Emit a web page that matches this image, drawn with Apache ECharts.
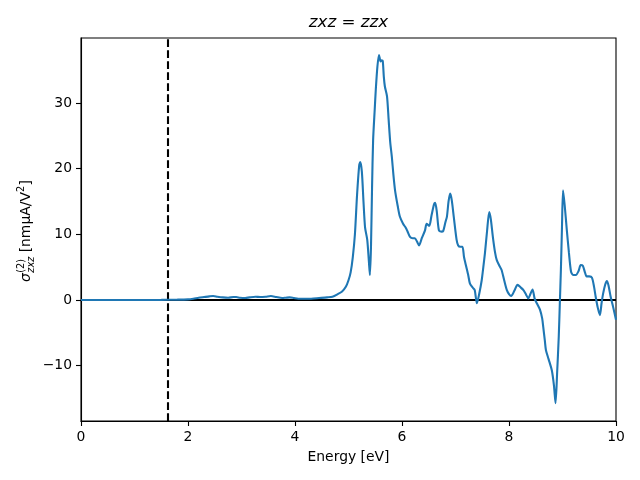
<!DOCTYPE html>
<html>
<head>
<meta charset="utf-8">
<script src="https://cdn.jsdelivr.net/npm/echarts@6/dist/echarts.min.js"></script>
<style>html,body{margin:0;padding:0;background:#fff}#c{width:640px;height:480px}</style>
</head>
<body>
<div id="c"></div>
<script>
const energy = [0.0,0.5,1.0,1.5,1.8,2.0,2.1,2.2,2.3,2.4,2.47,2.55,2.65,2.75,2.85,2.9,2.97,3.07,3.15,3.26,3.35,3.45,3.55,3.65,3.76,3.83,3.9,3.98,4.06,4.2,4.3,4.45,4.6,4.7,4.8,4.88,4.95,5.0,5.04,5.08,5.12,5.16,5.2,5.22,5.25,5.28,5.31,5.35,5.38,5.40,5.42,5.44,5.46,5.49,5.51,5.54,5.57,5.60,5.62,5.64,5.66,5.68,5.72,5.75,5.78,5.81,5.84,5.87,5.92,5.96,6.02,6.07,6.10,6.15,6.2,6.24,6.28,6.32,6.37,6.43,6.46,6.51,6.55,6.6,6.62,6.65,6.69,6.74,6.77,6.81,6.84,6.87,6.90,6.93,6.97,7.02,7.05,7.09,7.13,7.16,7.2,7.24,7.27,7.33,7.36,7.40,7.44,7.49,7.52,7.55,7.59,7.63,7.66,7.7,7.74,7.77,7.82,7.86,7.91,7.96,8.0,8.04,8.1,8.16,8.22,8.27,8.32,8.36,8.40,8.44,8.48,8.52,8.58,8.62,8.64,8.67,8.69,8.74,8.80,8.84,8.87,8.90,8.93,8.95,8.97,8.99,9.01,9.04,9.08,9.12,9.16,9.2,9.25,9.3,9.34,9.38,9.42,9.45,9.5,9.55,9.59,9.62,9.66,9.70,9.73,9.76,9.8,9.83,9.86,9.90,9.95,10.0];
const sigma = [0,0,0,0.02,0.05,0.1,0.2,0.35,0.45,0.55,0.6,0.5,0.4,0.35,0.45,0.45,0.35,0.3,0.4,0.5,0.45,0.5,0.6,0.45,0.3,0.35,0.4,0.3,0.2,0.2,0.2,0.3,0.4,0.5,0.9,1.3,2.0,3.0,4.2,6.5,10,16,20.5,21.0,19.5,15,11,9.2,6,3.8,8,17,24.3,29,32,35.5,37.3,36.3,36.5,36.4,34,32.5,31,27.5,24,21.8,19,16.7,14.3,12.7,11.6,11,10.5,9.6,9.4,9.4,8.9,8.3,9.4,10.6,11.6,11.3,12.8,14.6,14.8,13.5,10.6,10.4,10.5,11.8,12.7,15,16.2,15.2,12.5,9.2,8.3,8.1,8.1,6.5,5.1,3.7,2.5,1.8,1.5,-0.5,0.8,3.0,5,7.1,10.5,13.4,12.3,9.5,7.2,6.1,5.2,4.6,3.0,1.5,0.9,0.6,1.4,2.3,1.9,1.5,0.8,0.25,0.9,1.6,0.2,-0.5,-1.5,-2.8,-4.1,-6.2,-7.6,-9,-10.7,-13,-15.7,-11,-5.6,-0.5,4.6,11,16.7,14.5,10.7,7.2,4.3,3.8,3.8,4.4,5.3,5.2,4.2,3.6,3.6,3.4,2.0,0.5,-1.2,-2.3,-0.5,1.0,2.4,2.9,2.2,0.5,-1.2,-3.0];
const yTicks = [-10, 0, 10, 20, 30];
const xTicks = [0, 2, 4, 6, 8, 10];
const gapEnergy = 1.626;
const titleText = ['zxz', ' = ', 'zzx'];

const FONT = 'DejaVu Sans';
const FS = 13.9;

const chart = echarts.init(document.getElementById('c'));

const ctx = document.createElement('canvas').getContext('2d');
function w(t, size, italic) {
  ctx.font = (italic ? 'italic ' : '') + size + 'px "' + FONT + '"';
  return ctx.measureText(t).width;
}
const sub = FS * 0.7;
const parts = [];
let cx = 0;
function add(t, size, italic, dy) { parts.push({t, size, italic, dy, x: cx}); }
add('σ', FS, true, 0); cx += w('σ', FS, true) + 0.5;
const supW = w('(2)', sub, false), subW = w('zxz', sub, true);
add('(2)', sub, false, -5.5); add('zxz', sub, true, 4.5);
cx += Math.max(supW, subW);
add(' [nmμA/V', FS, false, 0); cx += w(' [nmμA/V', FS, false);
add('2', sub, false, -5.5); cx += w('2', sub, false) + 0.5;
add(']', FS, false, 0); cx += w(']', FS, false);
const total = cx;
const labelChildren = parts.map(p => ({
  type: 'text',
  x: p.x - total / 2,
  y: p.dy,
  style: {
    text: p.t,
    fontFamily: FONT,
    fontSize: p.size,
    fontStyle: p.italic ? 'italic' : 'normal',
    fill: '#000',
    textAlign: 'left',
    textVerticalAlign: 'middle'
  }
}));

const data = energy.map((e, i) => [e, sigma[i]]);
const fmt = v => String(v).replace('-', '\u2212');

chart.setOption({
  animation: false,
  backgroundColor: '#fff',
  grid: {
    left: 81, right: 24, top: 38, bottom: 59,
    show: true, borderColor: '#000', borderWidth: 1.1, backgroundColor: 'transparent',
    outerBoundsMode: 'none'
  },
  xAxis: {
    type: 'value', min: 0, max: 10, interval: 2,
    axisLine: {show: true, onZero: false, lineStyle: {color: '#000', width: 1.1}},
    axisTick: {show: true, inside: false, length: 5, lineStyle: {color: '#000', width: 1.1}},
    axisLabel: {color: '#000', fontFamily: FONT, fontSize: FS, margin: 9, customValues: xTicks, formatter: fmt},
    splitLine: {show: false},
    name: 'Energy [eV]', nameLocation: 'middle', nameGap: 29,
    nameTextStyle: {color: '#000', fontFamily: FONT, fontSize: FS}
  },
  yAxis: {
    type: 'value', min: -18.42, max: 39.88,
    axisLine: {show: true, onZero: false, lineStyle: {color: '#000', width: 1.1}},
    axisTick: {show: true, inside: false, length: 5, lineStyle: {color: '#000', width: 1.1}, customValues: yTicks},
    axisLabel: {color: '#000', fontFamily: FONT, fontSize: FS, margin: 9, customValues: yTicks, formatter: fmt},
    splitLine: {show: false}
  },
  graphic: [
    {
      type: 'text', x: 348.5, y: 22.5,
      style: {
        text: '{i|' + titleText[0] + '}{n|' + titleText[1] + '}{i|' + titleText[2] + '}',
        textAlign: 'center', textVerticalAlign: 'middle',
        rich: {
          i: {fontFamily: FONT, fontSize: 16.7, fontStyle: 'italic', fill: '#000', color: '#000'},
          n: {fontFamily: FONT, fontSize: 16.7, fill: '#000', color: '#000'}
        }
      }
    },
    {
      type: 'group', x: 26.5, y: 231, rotation: Math.PI / 2,
      children: labelChildren
    }
  ],
  series: [
    {
      type: 'line', data: [], z: 1, silent: true,
      markLine: {
        silent: true, symbol: 'none', animation: false, z: 1,
        label: {show: false},
        data: [
          {yAxis: 0, lineStyle: {color: '#000', width: 2.1, type: 'solid'}},
          {xAxis: gapEnergy, lineStyle: {color: '#000', width: 2.1, type: [7.7, 3.3]}}
        ]
      }
    },
    {
      type: 'line', data: data, z: 6,
      showSymbol: false, smooth: 0.25,
      lineStyle: {color: '#1f77b4', width: 2.1},
      itemStyle: {color: '#1f77b4'}
    }
  ]
});
</script>
</body>
</html>
